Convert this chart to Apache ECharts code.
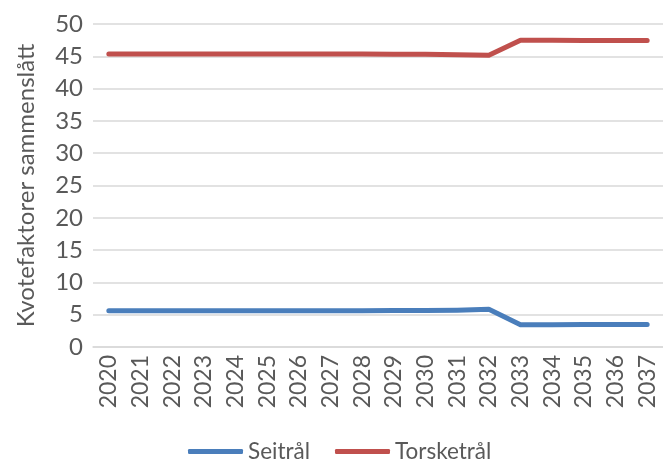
<!DOCTYPE html>
<html>
<head>
<meta charset="utf-8">
<script src="https://cdn.jsdelivr.net/npm/echarts@6/dist/echarts.min.js"></script>
<style>
  html, body { margin: 0; padding: 0; background: #ffffff; }
  #chart { width: 663px; height: 459px; }
</style>
</head>
<body>
<div id="chart"></div>
<script>
// Years on the category axis
const years = ['2020', '2021', '2022', '2023', '2024', '2025', '2026', '2027', '2028',
               '2029', '2030', '2031', '2032', '2033', '2034', '2035', '2036', '2037'];

// Combined quota factors per trawl group
const seitral = [5.6, 5.6, 5.6, 5.6, 5.6, 5.6, 5.6, 5.6, 5.6,
                 5.65, 5.65, 5.7, 5.85, 3.45, 3.45, 3.5, 3.5, 3.5];
const torsketral = [45.35, 45.35, 45.35, 45.35, 45.35, 45.35, 45.35, 45.35, 45.35,
                    45.3, 45.3, 45.25, 45.15, 47.5, 47.5, 47.45, 47.45, 47.45];

// Value axis ticks
const yTicks = [0, 5, 10, 15, 20, 25, 30, 35, 40, 45, 50];

const FONT = 'Lato, "Open Sans", sans-serif';
const TEXT = '#595959';

const chart = echarts.init(document.getElementById('chart'), null, { renderer: 'canvas' });
chart.setOption({
  animation: false,
  textStyle: { fontFamily: FONT },
  grid: { left: 93, right: -8, top: 24, bottom: 112, containLabel: false },
  legend: {
    top: 440,
    left: 188,
    padding: 0,
    itemWidth: 55,
    itemHeight: 5,
    itemGap: 25,
    icon: 'roundRect',
    textStyle: { fontFamily: FONT, fontSize: 22.5, color: TEXT },
    data: ['Seitrål', 'Torsketrål']
  },
  xAxis: {
    type: 'category',
    data: years,
    boundaryGap: true,
    axisLine: { show: true, lineStyle: { color: '#d9d9d9', width: 1.5 } },
    axisTick: { show: false },
    axisLabel: { rotate: 90, fontSize: 23, color: TEXT, margin: 8, fontFamily: FONT, interval: 0 }
  },
  yAxis: {
    type: 'value',
    min: yTicks[0],
    max: yTicks[yTicks.length - 1],
    interval: 5,
    name: 'Kvotefaktorer sammenslått',
    nameLocation: 'middle',
    nameGap: 55,
    nameTextStyle: { fontSize: 24, color: TEXT, fontFamily: FONT },
    axisLine: { show: false },
    axisTick: { show: false },
    axisLabel: { fontSize: 24, color: TEXT, margin: 10, fontFamily: FONT },
    splitLine: { show: true, lineStyle: { color: '#d9d9d9', width: 1.5 } }
  },
  series: [
    {
      name: 'Seitrål',
      type: 'line',
      data: seitral,
      symbol: 'none',
      color: '#4a7ebb',
      lineStyle: { width: 5, color: '#4a7ebb', cap: 'round', join: 'round' }
    },
    {
      name: 'Torsketrål',
      type: 'line',
      data: torsketral,
      symbol: 'none',
      color: '#c0504d',
      lineStyle: { width: 5, color: '#c0504d', cap: 'round', join: 'round' }
    }
  ]
});
</script>
</body>
</html>
